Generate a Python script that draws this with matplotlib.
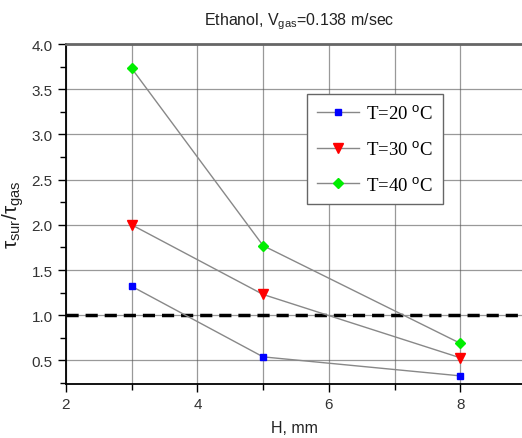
import matplotlib
matplotlib.use("Agg")
import matplotlib.pyplot as plt
from matplotlib.ticker import MultipleLocator

H = [3, 5, 8]
tau_20 = [1.32, 0.54, 0.33]
tau_30 = [2.00, 1.23, 0.53]
tau_40 = [3.73, 1.77, 0.69]
labels = ["T=20 $^{\\mathrm{o}}$C", "T=30 $^{\\mathrm{o}}$C", "T=40 $^{\\mathrm{o}}$C"]

plt.rcParams['font.family'] = ['Liberation Sans', 'DejaVu Sans']
plt.rcParams['mathtext.fontset'] = 'custom'
plt.rcParams['mathtext.rm'] = 'Liberation Sans'
plt.rcParams['mathtext.it'] = 'Liberation Sans:italic'

fig = plt.figure(figsize=(5.22, 4.39), dpi=100)
ax = fig.add_axes([66/522, 1-385/439, 1-66/522, (385-45)/439])

ax.set_xlim(2, 8.94)
ax.set_ylim(0.24, 4.0)
ax.xaxis.set_major_locator(MultipleLocator(2))
ax.xaxis.set_minor_locator(MultipleLocator(1))
ax.yaxis.set_major_locator(MultipleLocator(0.5))
ax.yaxis.set_minor_locator(MultipleLocator(0.25))
ax.grid(True, which='major', axis='y', color='#555555', lw=0.9, alpha=0.6)
ax.grid(True, which='both', axis='x', color='#555555', lw=0.9, alpha=0.6)
ax.set_axisbelow(True)

ax.axhline(1.0, color='black', lw=2.5, dashes=(3.5, 2), zorder=2)

ax.plot(H, tau_20, color='#888888', lw=1.0, marker='s', ms=5, mfc='#0000ff', mec='#0000ff', label=labels[0], zorder=3)
ax.plot(H, tau_30, color='#888888', lw=1.0, marker='v', ms=7, mfc='#ff0000', mec='#ff0000', label=labels[1], zorder=3)
ax.plot(H, tau_40, color='#888888', lw=1.0, marker='D', ms=5, mfc='#00ee00', mec='#00ee00', label=labels[2], zorder=3)

for s in ['left', 'bottom']:
    ax.spines[s].set_color('black')
    ax.spines[s].set_linewidth(1.3)
ax.spines['top'].set_color('#666666')
ax.spines['top'].set_linewidth(2)
ax.spines['right'].set_visible(False)

ax.tick_params(which='major', direction='out', length=6, width=1, labelsize=11, colors='black')
ax.tick_params(which='minor', direction='out', length=4, width=1)
for lab in ax.get_xticklabels() + ax.get_yticklabels():
    lab.set_color('#333333')

ax.set_xlabel("H, mm", fontsize=11.5, color='#222222', labelpad=6)
ax.set_ylabel(r"$\mathrm{\tau_{sur}/\tau_{gas}}$", fontsize=15, color='#222222', labelpad=4)
fig.text(299/522, 1-22/439, r"Ethanol, $\mathrm{V}_{\mathrm{gas}}$=0.138 m/sec",
         ha='center', va='center', fontsize=11.5, color='#222222')

leg = ax.legend(loc='upper left', bbox_to_anchor=(307/522, 1-95/439), bbox_transform=fig.transFigure,
                prop={'family': 'Liberation Serif', 'size': 13.5}, frameon=True, fancybox=False,
                edgecolor='#666666', framealpha=1, borderaxespad=0, handlelength=2.2,
                labelspacing=0.95, handletextpad=0.4, borderpad=0.55)
leg.get_frame().set_linewidth(1.0)

fig.savefig("out.png", dpi=100)
